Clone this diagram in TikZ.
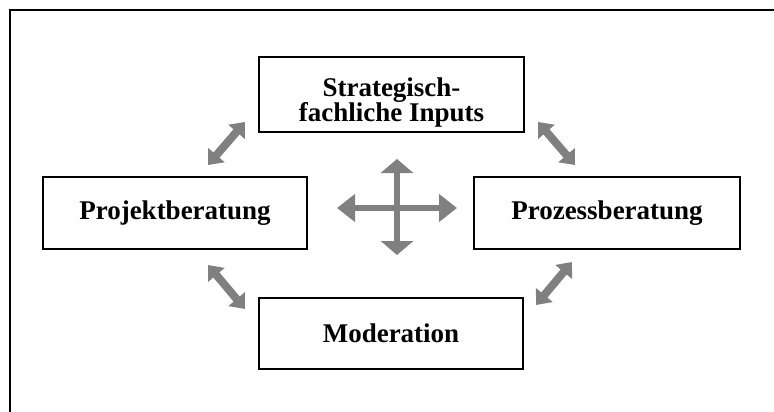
\documentclass[tikz,border=0pt]{standalone}
\usepackage{fontspec}
\setmainfont{Liberation Serif}
\usetikzlibrary{arrows.meta}
\definecolor{arrgray}{HTML}{808080}
\tikzset{
  boxtext/.style={font=\fontsize{27}{23}\selectfont\bfseries, align=center},
  box/.style={draw=black, line width=1.8pt, rectangle, inner sep=0pt, boxtext},
  diag/.style={draw=arrgray, line width=8pt,
    {Triangle[width=21pt,length=13pt]}-{Triangle[width=21pt,length=13pt]}},
  hcross/.style={draw=arrgray, line width=6pt,
    {Triangle[width=27pt,length=18pt]}-{Triangle[width=27pt,length=18pt]}},
  vcross/.style={draw=arrgray, line width=5.5pt,
    {Triangle[width=32pt,length=14pt]}-{Triangle[width=32pt,length=14pt]}},
  frame/.style={draw=black, line width=2pt}
}
\begin{document}
\begin{tikzpicture}[x=1pt,y=-1pt]
\useasboundingbox (0,0) rectangle (774,412);
% outer frame (only top and left visible)
\coordinate (fb) at (10,412);
\coordinate (fc) at (10,10);
\coordinate (fr) at (774,10);
\draw[frame] (fb) -- (fc) -- (fr);
% boxes
\node[box, minimum width=265pt, minimum height=75pt,
  label={[boxtext, inner sep=0pt, yshift=-8pt]center:{Strategisch-\\fachliche Inputs}}] (top) at (391.5,94.5) {};
\node[box, minimum width=264pt, minimum height=72pt] (left) at (175,213) {Projektberatung};
\node[box, minimum width=266pt, minimum height=72pt] (right) at (607,213) {Prozessberatung};
\node[box, minimum width=264pt, minimum height=71pt] (bottom) at (391,333.5) {Moderation};
% diagonal arrows
\coordinate (tl1) at (208,165); \coordinate (tl2) at (245,122);
\coordinate (bl1) at (208,265); \coordinate (bl2) at (245,309);
\coordinate (tr1) at (538,122); \coordinate (tr2) at (575,165);
\coordinate (br1) at (536,305); \coordinate (br2) at (572,262);
\draw[diag] (tl1) -- (tl2);
\draw[diag] (bl1) -- (bl2);
\draw[diag] (tr1) -- (tr2);
\draw[diag] (br1) -- (br2);
% cross
\coordinate (cl) at (337,208); \coordinate (cr) at (457,208);
\coordinate (ct) at (397,159); \coordinate (cb) at (397,255);
\draw[hcross] (cl) -- (cr);
\draw[vcross] (ct) -- (cb);
\end{tikzpicture}
\end{document}
